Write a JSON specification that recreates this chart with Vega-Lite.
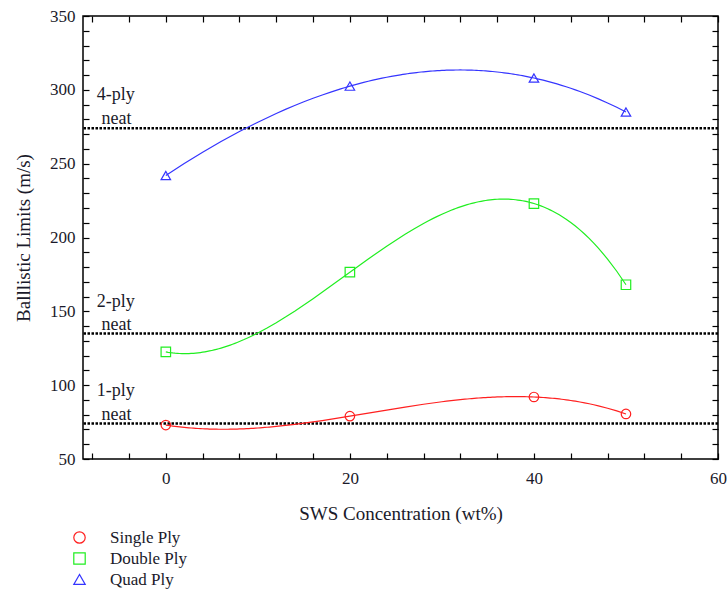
{
  "$schema": "https://vega.github.io/schema/vega-lite/v6.json",
  "width": 635,
  "height": 443,
  "autosize": {"type": "none"},
  "padding": {"left": 83, "top": 16, "right": 10, "bottom": 133},
  "background": "white",
  "config": {
    "view": {"stroke": "black", "strokeWidth": 1.5},
    "font": "Liberation Serif",
    "axis": {
      "grid": false,
      "domain": false,
      "tickColor": "black",
      "tickWidth": 1.2,
      "tickSize": -6,
      "labelFont": "Liberation Serif",
      "labelFontSize": 17,
      "labelColor": "#1a1a2a",
      "titleFont": "Liberation Serif",
      "titleFontSize": 19,
      "titleFontWeight": "normal",
      "titleColor": "#1a1a2a",
      "labelOverlap": false,
      "labelFlush": false,
      "labelBound": false
    },
    "legend": {
      "labelFont": "Liberation Serif",
      "labelFontSize": 17,
      "labelColor": "#1a1a2a"
    }
  },
  "datasets": {
    "points": [
      {"wt": 0, "v": 73, "series": "Single Ply"},
      {"wt": 20, "v": 79, "series": "Single Ply"},
      {"wt": 40, "v": 92, "series": "Single Ply"},
      {"wt": 50, "v": 80.5, "series": "Single Ply"},
      {"wt": 0, "v": 122.5, "series": "Double Ply"},
      {"wt": 20, "v": 176.5, "series": "Double Ply"},
      {"wt": 40, "v": 223, "series": "Double Ply"},
      {"wt": 50, "v": 168, "series": "Double Ply"},
      {"wt": 0, "v": 242, "series": "Quad Ply"},
      {"wt": 20, "v": 302.5, "series": "Quad Ply"},
      {"wt": 40, "v": 308, "series": "Quad Ply"},
      {"wt": 50, "v": 285, "series": "Quad Ply"}
    ],
    "neat": [
      {"v": 74},
      {"v": 135},
      {"v": 274}
    ],
    "labels": [
      {"wt": -7.5, "v": 293, "text": "4-ply"},
      {"wt": -7.0, "v": 277, "text": "neat"},
      {"wt": -7.5, "v": 153, "text": "2-ply"},
      {"wt": -7.0, "v": 137.5, "text": "neat"},
      {"wt": -7.5, "v": 93, "text": "1-ply"},
      {"wt": -7.0, "v": 76.5, "text": "neat"}
    ]
  },
  "resolve": {"axis": {"x": "independent", "y": "independent"}},
  "layer": [
    {
      "data": {"name": "neat"},
      "mark": {"type": "rule", "color": "black", "strokeWidth": 2.5, "strokeDash": [2.5, 1.5]},
      "encoding": {
        "y": {
          "field": "v", "type": "quantitative",
          "scale": {"domain": [50, 350], "nice": false, "zero": false},
          "axis": {
            "orient": "left",
            "values": [50,60,70,80,90,100,110,120,130,140,150,160,170,180,190,200,210,220,230,240,250,260,270,280,290,300,310,320,330,340,350],
            "labelExpr": "datum.value % 50 === 0 ? datum.label : ''",
            "labelPadding": 14,
            "title": "Balllistic Limits (m/s)",
            "titlePadding": 16
          }
        }
      }
    },
    {
      "data": {"name": "points"},
      "transform": [
        {"filter": "datum.series === 'Single Ply'"},
        {"regression": "v", "on": "wt", "method": "poly", "order": 3}
      ],
      "mark": {"type": "line", "strokeWidth": 1.2, "color": "#ff2020"},
      "encoding": {
        "x": {
          "field": "wt", "type": "quantitative",
          "scale": {"domain": [-9, 60], "nice": false, "zero": false},
          "axis": {
            "orient": "bottom",
            "values": [-8,-4,0,4,8,12,16,20,24,28,32,36,40,44,48,52,56,60],
            "labelExpr": "datum.value % 20 === 0 && datum.value >= 0 ? datum.label : ''",
            "labelPadding": 17,
            "title": "SWS Concentration (wt%)",
            "titlePadding": 18
          }
        },
        "y": {"field": "v", "type": "quantitative", "axis": null}
      }
    },
    {
      "data": {"name": "points"},
      "transform": [
        {"filter": "datum.series === 'Double Ply'"},
        {"regression": "v", "on": "wt", "method": "poly", "order": 3}
      ],
      "mark": {"type": "line", "strokeWidth": 1.2, "color": "#20ee20"},
      "encoding": {
        "x": {"field": "wt", "type": "quantitative", "axis": null},
        "y": {"field": "v", "type": "quantitative", "axis": null}
      }
    },
    {
      "data": {"name": "points"},
      "transform": [
        {"filter": "datum.series === 'Quad Ply'"},
        {"regression": "v", "on": "wt", "method": "poly", "order": 3}
      ],
      "mark": {"type": "line", "strokeWidth": 1.2, "color": "#3535ff"},
      "encoding": {
        "x": {"field": "wt", "type": "quantitative", "axis": null},
        "y": {"field": "v", "type": "quantitative", "axis": null}
      }
    },
    {
      "data": {"name": "points"},
      "mark": {"type": "point", "filled": false, "strokeWidth": 1.2, "size": 90, "opacity": 1},
      "encoding": {
        "x": {"field": "wt", "type": "quantitative", "axis": null},
        "y": {"field": "v", "type": "quantitative", "axis": null},
        "color": {
          "field": "series", "type": "nominal",
          "scale": {"domain": ["Single Ply", "Double Ply", "Quad Ply"], "range": ["#ff2020", "#20ee20", "#3535ff"]},
          "legend": {
            "title": null,
            "orient": "none",
            "legendX": -12,
            "legendY": 513,
            "direction": "vertical",
            "symbolSize": 130,
            "symbolStrokeWidth": 1.2,
            "symbolFillColor": "transparent",
            "labelOffset": 22,
            "rowPadding": 3,
            "padding": 0
          }
        },
        "shape": {
          "field": "series", "type": "nominal",
          "scale": {"domain": ["Single Ply", "Double Ply", "Quad Ply"], "range": ["circle", "square", "triangle-up"]},
          "legend": {
            "title": null,
            "orient": "none",
            "legendX": -12,
            "legendY": 513,
            "direction": "vertical",
            "symbolSize": 130,
            "symbolStrokeWidth": 1.2,
            "symbolFillColor": "transparent",
            "labelOffset": 22,
            "rowPadding": 3,
            "padding": 0
          }
        }
      }
    },
    {
      "data": {"name": "labels"},
      "mark": {"type": "text", "align": "left", "baseline": "alphabetic", "font": "Liberation Serif", "fontSize": 18, "color": "#1a1a2a"},
      "encoding": {
        "x": {
          "field": "wt", "type": "quantitative",
          "axis": {
            "orient": "top",
            "values": [-8,-4,0,4,8,12,16,20,24,28,32,36,40,44,48,52,56,60],
            "labels": false,
            "title": null
          }
        },
        "y": {
          "field": "v", "type": "quantitative",
          "axis": {
            "orient": "right",
            "values": [50,60,70,80,90,100,110,120,130,140,150,160,170,180,190,200,210,220,230,240,250,260,270,280,290,300,310,320,330,340,350],
            "labels": false,
            "title": null
          }
        },
        "text": {"field": "text", "type": "nominal"}
      }
    }
  ]
}
